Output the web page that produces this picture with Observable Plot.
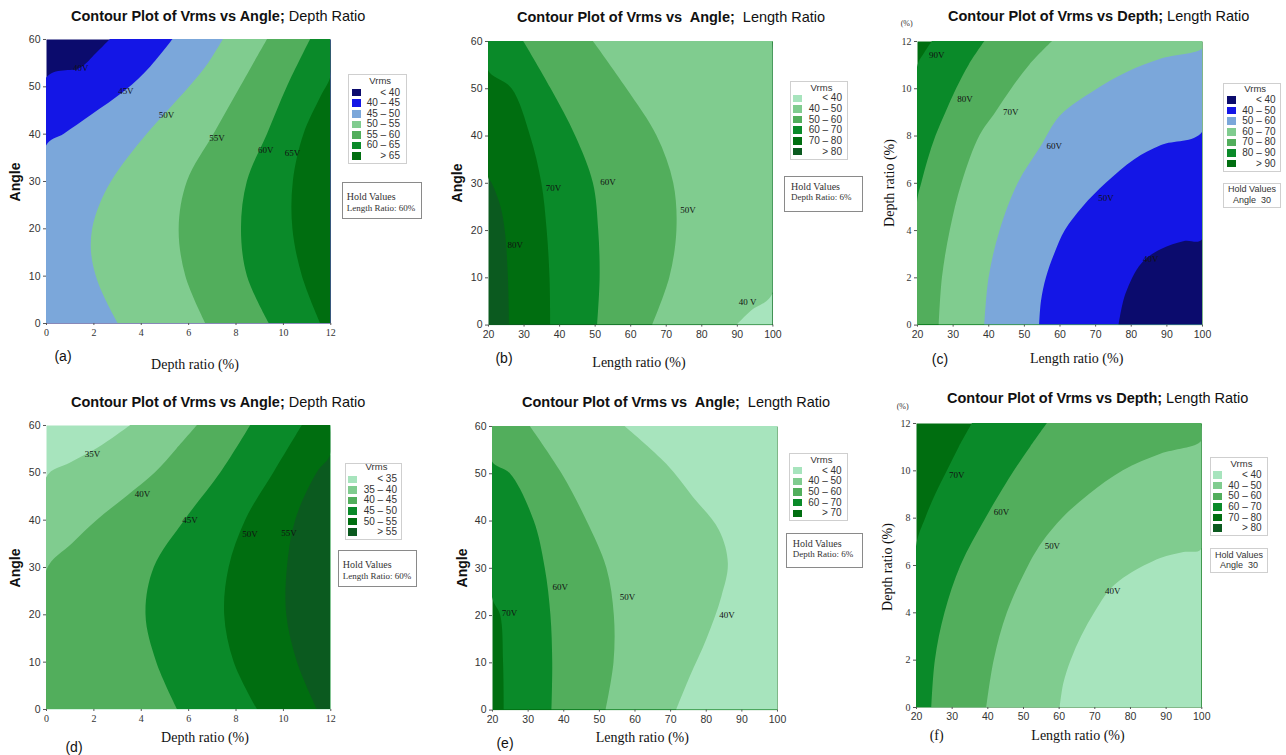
<!DOCTYPE html>
<html>
<head>
<meta charset="utf-8">
<script src="https://cdn.jsdelivr.net/npm/d3@7"></script>
<script src="https://cdn.jsdelivr.net/npm/@observablehq/plot@0.6"></script>
<style>
  body { margin: 0; background: #fff; }
  #root { position: relative; width: 1286px; height: 755px; overflow: hidden; background: #fff; }
  .t { position: absolute; white-space: pre; line-height: 1; color: #111; }
  .box { position: absolute; box-sizing: border-box; background: #fff; }
</style>
</head>
<body>
<div id="root"></div>
<script>
// ---------------- data ----------------
const angleTicks = [0, 10, 20, 30, 40, 50, 60];
const depthTicks = [0, 2, 4, 6, 8, 10, 12];
const lengthTicks = [20, 30, 40, 50, 60, 70, 80, 90, 100];

// contour boundaries: [y value, x value]
// (a) Angle vs Depth ratio, hold Length 60%
const a40 = [[0,0],[51.8,0],[54,1.45],[57,2.1],[60,2.7]];
const a45 = [[0,0],[37.5,0],[40,0.75],[44,1.9],[49.2,3.35],[54.2,4.4],[60,5.34]];
const a50 = [[0,3.02],[5,2.5],[10,2.1],[15,1.9],[20,1.95],[25,2.25],[30,2.75],[35,3.45],[40,4.25],[45,5.15],[50,6.05],[55,6.85],[60,7.47]];
const a55 = [[0,6.72],[10,5.88],[20,5.6],[30,5.95],[40,7.07],[50,8.2],[60,9.33]];
const a60 = [[0,9.4],[10,8.48],[20,8.23],[30,8.48],[40,9.33],[50,10.17],[60,11.15]];
const a65 = [[0,11.57],[10,10.8],[20,10.4],[30,10.42],[40,10.87],[48,11.6],[52.1,12],[60,12]];
// (b) Angle vs Length ratio, hold Depth 6%
const b80 = [[0,25.9],[10,25.6],[20,24.7],[25,23.5],[30,21],[31.2,20],[60,20]];
const b70 = [[0,37.5],[10,37.3],[20,36.5],[30,35],[40,31.8],[50,26.6],[53.8,20],[60,20]];
const b60 = [[0,50.7],[10,51.4],[20,51],[30,49.5],[40,44.5],[50,37.6],[60,29.9]];
const b50 = [[0,66.2],[10,71],[20,73],[30,72.1],[40,67.4],[50,58.9],[60,49.5]];
const b40 = [[0,89.9],[3,94],[6.6,100],[60,100]];
// (c) Depth vs Length ratio, hold Angle 30
const c90 = [[0,20],[10.9,20],[11.5,22],[12,24.2]];
const c80 = [[0,20],[5.19,20],[6,21.2],[7,23],[8,25.2],[9,28],[10,31],[11,34.5],[12,38.9]];
const c70 = [[0,26.1],[2,27],[4,29.2],[6,32.5],[8,37.5],[9,42],[10,46.5],[11,51.5],[12,57.9]];
const c60 = [[0,38.9],[2,40.1],[4,43.2],[6,48.3],[7.5,54.5],[8.86,60.2],[9.9,69.6],[10.7,79],[11.25,88.3],[11.68,100],[12,100]];
const c50 = [[0,54.3],[1,54.8],[2,56.2],[3,58.5],[4,61.5],[5,66.5],[6,73],[7,81],[7.6,88.5],[8.15,100],[12,100]];
const c40 = [[0,76.6],[1.3,78.5],[2.6,83],[3.2,88.5],[3.54,95],[3.6,100],[12,100]];
// (d) Angle vs Depth ratio, hold Length 60%
const d35 = [[0,0],[48.9,0],[52,1.0],[55,2.1],[58,3.0],[60,3.56]];
const d40 = [[0,0],[29.2,0],[35,1.1],[40,2.15],[45,3.4],[50,4.6],[55,5.5],[60,6.37]];
const d45 = [[0,5.53],[10,4.65],[20,4.2],[30,4.55],[40,5.85],[50,7.36],[60,8.62]];
const d50 = [[0,8.9],[10,7.92],[20,7.52],[30,7.71],[40,8.41],[50,9.6],[60,10.8]];
const d55 = [[0,11.43],[10,10.59],[20,10.14],[30,10.17],[40,10.52],[50,11.43],[53.7,12],[60,12]];
// (e) Angle vs Length ratio, hold Depth 6%
const e70 = [[0,23.3],[10,23.1],[20,22.3],[23.8,20],[60,20]];
const e60 = [[0,36.7],[10,36.9],[20,36.4],[30,34.8],[40,31.7],[50,25],[52.5,20],[60,20]];
const e50 = [[0,51.9],[10,54.1],[20,54.2],[30,52.1],[40,46.5],[50,39.5],[60,30.6]];
const e40 = [[0,71.7],[7,75.5],[15,80.2],[24,84.4],[31,86.2],[38,83.7],[45,76.4],[52,68.9],[60,57.2]];
// (f) Depth vs Length ratio, hold Angle 30
const f70 = [[0,20],[6.79,20],[8,22.6],[9,25.4],[10,28.7],[11,32],[12,35.7]];
const f60 = [[0,24.3],[2,25.3],[4,28],[6,32.5],[8,39.5],[10,47.5],[11,52],[12,56.7]];
const f50 = [[0,39.7],[2,41.8],[4,45.5],[6,51.5],[7,55.5],[8,61],[9,68.5],[10,78],[10.7,88.5],[11.25,100],[12,100]];
const f40 = [[0,60.3],[1,61.3],[2,63.4],[3,66.3],[4,70],[5,74.5],[5.6,79.5],[6.3,88.5],[6.55,95],[6.68,100],[12,100]];

// contour line labels: [x, y, text]
const labA = [[1.45,53.9,"40V"],[3.35,49.2,"45V"],[5.06,44,"50V"],[7.2,39.2,"55V"],[9.25,36.6,"60V"],[10.38,36,"65V"]];
const labB = [[27.5,16.9,"80V"],[38.3,28.9,"70V"],[53.6,30.3,"60V"],[76.1,24.3,"50V"],[92.9,4.9,"40 V"]];
const labC = [[25.4,11.42,"90V"],[33.3,9.56,"80V"],[46.2,9.0,"70V"],[58.4,7.56,"60V"],[72.9,5.36,"50V"],[85.5,2.8,"40V"]];
const labD = [[1.94,53.9,"35V"],[4.05,45.6,"40V"],[6.06,40.1,"45V"],[8.59,37.1,"50V"],[10.24,37.3,"55V"]];
const labE = [[24.8,20.5,"70V"],[39,26.1,"60V"],[57.9,23.8,"50V"],[85.8,20,"40V"]];
const labF = [[31.3,9.83,"70V"],[43.8,8.25,"60V"],[58.1,6.83,"50V"],[75,4.93,"40V"]];

// legend categories
const legA = ["< 40","40 – 45","45 – 50","50 – 55","55 – 60","60 – 65","> 65"];
const legB = ["< 40","40 – 50","50 – 60","60 – 70","70 – 80","> 80"];
const legC = ["< 40","40 – 50","50 – 60","60 – 70","70 – 80","80 – 90","> 90"];
const legD = ["< 35","35 – 40","40 – 45","45 – 50","50 – 55","> 55"];
const legE = ["< 40","40 – 50","50 – 60","60 – 70","> 70"];
const legF = ["< 40","40 – 50","50 – 60","60 – 70","70 – 80","> 80"];

// ---------------- styles ----------------
const COL = {
  navy: "#0b0b6d", blue: "#1416e6", steel: "#7ba7da",
  vlight: "#a7e4bd", light: "#80cc8f", medium: "#52ae5c",
  green: "#0a8a29", dark: "#006e10", vdark: "#0b5a1f"
};
const blueScale7 = [COL.navy, COL.blue, COL.steel, COL.light, COL.medium, COL.green, COL.dark];
const green6 = [COL.vlight, COL.light, COL.medium, COL.green, COL.dark, COL.vdark];
const green5 = [COL.vlight, COL.light, COL.medium, COL.green, COL.dark];

const SANS = "'Liberation Sans', Arial, Helvetica, sans-serif";
const SERIF = "'Liberation Serif', 'Times New Roman', Times, serif";

const root = document.getElementById("root");

function addText(html, x, y, css, anchor, rotate) {
  const d = document.createElement("div");
  d.className = "t";
  d.innerHTML = html;
  d.style.cssText += css;
  d.style.left = x + "px";
  d.style.top = y + "px";
  let tr = anchor === "middle" ? "translate(-50%,-50%)" : anchor === "end" ? "translate(-100%,-50%)" : "translate(0,-50%)";
  if (rotate) tr += " rotate(-90deg)";
  d.style.transform = tr;
  root.appendChild(d);
  return d;
}
function addBox(x0, y0, x1, y1, border) {
  const b = document.createElement("div");
  b.className = "box";
  b.style.left = x0 + "px"; b.style.top = y0 + "px";
  b.style.width = (x1 - x0) + "px"; b.style.height = (y1 - y0) + "px";
  b.style.border = border;
  root.appendChild(b);
}

const panels = [
  { frame: [45.7, 39.3, 330, 323.3], xd: [0, 12], yd: [0, 60], xt: depthTicks, yt: angleTicks,
    xf: SERIF, yf: SANS, base: COL.navy, bounds: [a40, a45, a50, a55, a60, a65],
    fills: [COL.blue, COL.steel, COL.light, COL.medium, COL.green, COL.dark], labels: labA },
  { frame: [488.3, 40.7, 772.7, 324.3], xd: [20, 100], yd: [0, 60], xt: lengthTicks, yt: angleTicks,
    xf: SANS, yf: SANS, base: COL.vdark, bounds: [b80, b70, b60, b50, b40],
    fills: [COL.dark, COL.green, COL.medium, COL.light, COL.vlight], labels: labB },
  { frame: [916.7, 40.7, 1201.7, 324.3], xd: [20, 100], yd: [0, 12], xt: lengthTicks, yt: depthTicks,
    xf: SANS, yf: SERIF, base: COL.dark, bounds: [c90, c80, c70, c60, c50, c40],
    fills: [COL.green, COL.medium, COL.light, COL.steel, COL.blue, COL.navy], labels: labC },
  { frame: [45.7, 425, 330, 709], xd: [0, 12], yd: [0, 60], xt: depthTicks, yt: angleTicks,
    xf: SERIF, yf: SANS, base: COL.vlight, bounds: [d35, d40, d45, d50, d55],
    fills: [COL.light, COL.medium, COL.green, COL.dark, COL.vdark], labels: labD },
  { frame: [492.3, 425.7, 777.3, 709.3], xd: [20, 100], yd: [0, 60], xt: lengthTicks, yt: angleTicks,
    xf: SANS, yf: SANS, base: COL.dark, bounds: [e70, e60, e50, e40],
    fills: [COL.green, COL.medium, COL.light, COL.vlight], labels: labE },
  { frame: [915.7, 423.3, 1201, 707.3], xd: [20, 100], yd: [0, 12], xt: lengthTicks, yt: depthTicks,
    xf: SANS, yf: SERIF, base: COL.dark, bounds: [f70, f60, f50, f40],
    fills: [COL.green, COL.medium, COL.light, COL.vlight], labels: labF }
];

const ML = 40, MR = 6, MT = 8, MB = 26;
panels.forEach(p => {
  const [l, t, r, b] = p.frame;
  const W = r - l, H = b - t;
  const xmax = p.xd[1];
  const marks = [Plot.frame({fill: p.base})];
  p.bounds.forEach((bd, i) => {
    marks.push(Plot.areaX(bd, {
      y: d => d[0], x1: d => d[1], x2: () => xmax,
      fill: p.fills[i], curve: "catmull-rom", clip: true
    }));
  });
  marks.push(Plot.text(p.labels, {
    x: d => d[0], y: d => d[1], text: d => d[2],
    fontFamily: SERIF, fontSize: 9, fill: "#111"
  }));
  const yFS = p.yf === SANS ? 10.5 : 10;
  const xFS = p.xf === SANS ? 10.5 : 10;
  marks.push(Plot.axisY({ticks: p.yt, tickSize: 3, tickPadding: 3, fontFamily: p.yf, fontSize: yFS, label: null, stroke: "#555"}));
  marks.push(Plot.axisX({ticks: p.xt, tickSize: 2, tickPadding: 3, fontFamily: p.xf, fontSize: xFS, label: null, stroke: "#555"}));
  const svg = Plot.plot({
    width: W + ML + MR, height: H + MT + MB,
    marginLeft: ML, marginRight: MR, marginTop: MT, marginBottom: MB,
    x: {domain: p.xd}, y: {domain: p.yd},
    style: {color: "#333", background: "transparent", overflow: "visible"},
    marks
  });
  svg.style.position = "absolute";
  svg.style.left = (l - ML) + "px";
  svg.style.top = (t - MT) + "px";
  root.appendChild(svg);
});

// titles
function title(x, y, boldPart, regPart) {
  const d = addText("", x, y, `font-family:${SANS};font-size:14.5px;color:#111;`, "start");
  const s1 = document.createElement("span");
  s1.style.fontWeight = "bold";
  s1.innerHTML = boldPart;
  const s2 = document.createElement("span");
  s2.style.fontWeight = "normal";
  s2.innerHTML = regPart;
  d.appendChild(s1); d.appendChild(s2);
}
title(71, 16, "Contour Plot of Vrms vs Angle;", " Depth Ratio");
title(517, 16.7, "Contour Plot of Vrms vs&nbsp; Angle;", "&nbsp; Length Ratio");
title(948, 16, "Contour Plot of Vrms vs Depth;", " Length Ratio");
title(71, 401.7, "Contour Plot of Vrms vs Angle;", " Depth Ratio");
title(522, 402, "Contour Plot of Vrms vs&nbsp; Angle;", "&nbsp; Length Ratio");
title(947, 398, "Contour Plot of Vrms vs Depth;", " Length Ratio");

// y axis labels
const yl = `font-family:${SANS};font-size:14px;font-weight:bold;color:#111;`;
const ys = `font-family:${SERIF};font-size:14px;color:#111;`;
addText("Angle", 15, 182, yl, "middle", true);
addText("Angle", 456.7, 183, yl, "middle", true);
addText("Depth ratio (%)", 890, 183, ys, "middle", true);
addText("Angle", 15, 568, yl, "middle", true);
addText("Angle", 461.7, 568, yl, "middle", true);
addText("Depth ratio (%)", 888.3, 566.7, ys, "middle", true);
addText("(%)", 906.7, 24, `font-family:${SERIF};font-size:8px;color:#333;`, "middle");
addText("(%)", 902.7, 407.3, `font-family:${SERIF};font-size:8px;color:#333;`, "middle");

// x axis labels
const xs = `font-family:${SERIF};font-size:14px;color:#111;`;
addText("Depth ratio (%)", 195, 365, xs, "middle");
addText("Length ratio (%)", 639, 362.7, xs, "middle");
addText("Length ratio (%)", 1076.7, 359.3, xs, "middle");
addText("Depth ratio (%)", 205, 738.3, xs, "middle");
addText("Length ratio (%)", 642.3, 737.7, xs, "middle");
addText("Length ratio (%)", 1078, 736, xs, "middle");

// panel letters
const ps = `font-family:${SANS};font-size:14px;color:#111;`;
addText("(a)", 63, 355.7, ps, "middle");
addText("(b)", 504, 357.7, ps, "middle");
addText("(c)", 940, 359, ps, "middle");
addText("(d)", 74, 746.7, ps, "middle");
addText("(e)", 505, 742.7, ps, "middle");
addText("(f)", 936.7, 736, `font-family:${SERIF};font-size:14px;color:#111;`, "middle");

// legends
function legend(box, titleY, row0, step, swX, txtR, labels, colors) {
  addBox(box[0], box[1], box[2], box[3], "1px solid #cfcfcf");
  addText("Vrms", (swX + txtR) / 2 + 4, titleY, `font-family:${SANS};font-size:9.5px;color:#333;`, "middle");
  labels.forEach((lab, i) => {
    const y = row0 + i * step;
    const s = document.createElement("div");
    s.className = "box";
    s.style.left = swX + "px"; s.style.top = (y - 3.8) + "px";
    s.style.width = "9px"; s.style.height = "7.6px";
    s.style.background = colors[i];
    root.appendChild(s);
    addText(lab, txtR, y, `font-family:${SANS};font-size:10px;color:#333;`, "end");
  });
}
legend([348, 74, 406.5, 163.5], 81, 92.7, 10.55, 352.3, 400, legA, blueScale7);
legend([790, 81, 848, 160], 87.7, 98.3, 10.65, 793, 842, legB, green6);
legend([1223, 82.7, 1281, 171.7], 89.3, 100, 10.6, 1226.7, 1275.7, legC, blueScale7);
legend([344.5, 462.7, 401.5, 540], 467, 479.3, 10.55, 348, 397, legD, green6);
legend([789, 453, 848, 521], 460, 470.7, 10.65, 793.3, 841.7, legE, green5);
legend([1210, 457, 1268, 536], 464.3, 475, 10.65, 1213.3, 1261.7, legF, green6);

// hold value boxes
function holdSerif(box, x, y1, y2, line2) {
  addBox(box[0], box[1], box[2], box[3], "1px solid #8a8a8a");
  addText("Hold Values", x, y1, `font-family:${SERIF};font-size:10px;color:#333;`, "start");
  addText(line2, x, y2, `font-family:${SERIF};font-size:9px;color:#333;`, "start");
}
function holdSans(box, y1, y2, line2) {
  addBox(box[0], box[1], box[2], box[3], "1px solid #cfcfcf");
  const cx = (box[0] + box[2]) / 2;
  addText("Hold Values", cx, y1, `font-family:${SANS};font-size:9px;color:#333;`, "middle");
  addText(line2, cx, y2, `font-family:${SANS};font-size:9px;color:#333;`, "middle");
}
holdSerif([342.3, 182, 421.7, 219], 346.7, 197.3, 208, "Length Ratio: 60%");
holdSerif([784.3, 176, 863, 212], 791, 187.3, 197.3, "Depth Ratio: 6%");
holdSans([1223, 182.7, 1281, 208.3], 189.3, 200, "Angle&nbsp; 30");
holdSerif([337.7, 550, 416.7, 586.7], 342.7, 565, 575.7, "Length Ratio: 60%");
holdSerif([786, 532.7, 863, 568], 792.7, 544, 554, "Depth Ratio: 6%");
holdSans([1210, 548, 1268, 573], 555, 565, "Angle&nbsp; 30");
</script>
</body>
</html>
